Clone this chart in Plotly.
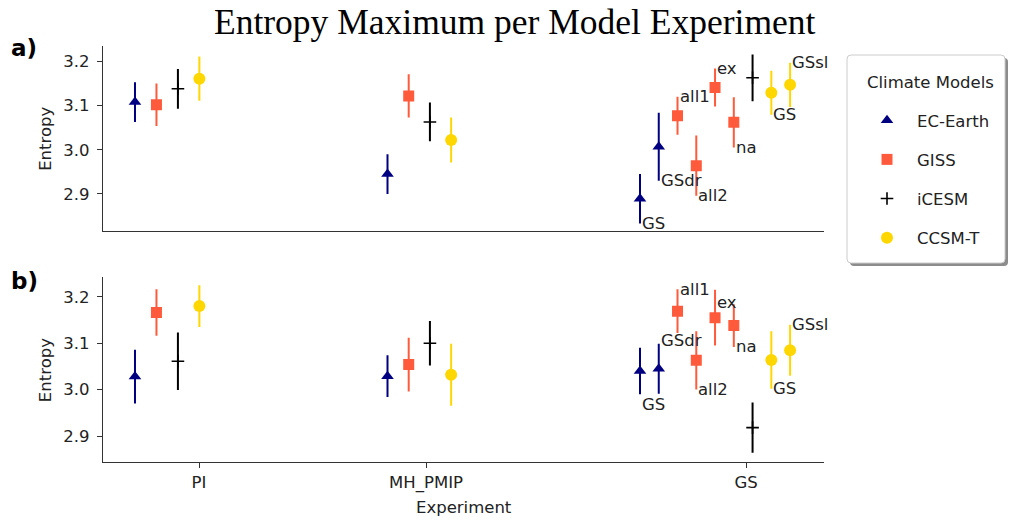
import plotly.graph_objects as go

# ---------------- data ----------------
experiments = ["PI", "MH_PMIP", "GS"]
models = ["EC-Earth", "GISS", "iCESM", "CCSM-T"]

pt_experiment = ["PI"] * 4 + ["MH_PMIP"] * 4 + ["GS"] * 9
pt_model = (["EC-Earth", "GISS", "iCESM", "CCSM-T"] * 2
            + ["EC-Earth", "EC-Earth", "GISS", "GISS", "GISS", "GISS",
               "iCESM", "CCSM-T", "CCSM-T"])
pt_label = [""] * 8 + ["GS", "GSdr", "all1", "all2", "ex", "na", "", "GS", "GSsl"]

# panel a
a_value = [3.108, 3.102, 3.138, 3.161,
           2.945, 3.122, 3.063, 3.022,
           2.889, 3.007, 3.077, 2.964, 3.141, 3.062, 3.163, 3.129, 3.147]
a_error = [0.045, 0.048, 0.045, 0.050,
           0.045, 0.049, 0.044, 0.051,
           0.056, 0.077, 0.043, 0.068, 0.043, 0.057, 0.053, 0.050, 0.050]
# panel b
b_value = [3.028, 3.166, 3.061, 3.180,
           3.029, 3.054, 3.100, 3.032,
           3.040, 3.045, 3.169, 3.063, 3.155, 3.138, 2.918, 3.064, 3.085]
b_error = [0.058, 0.050, 0.062, 0.045,
           0.045, 0.058, 0.048, 0.067,
           0.050, 0.054, 0.047, 0.063, 0.060, 0.046, 0.054, 0.062, 0.055]

# label placement: +1 above the error bar end, -1 below
a_label_side = [0] * 8 + [-1, -1, 1, -1, 1, -1, 0, -1, 1]
b_label_side = [0] * 8 + [-1, 1, 1, -1, 1, -1, 0, -1, 1]
b_label_nudge = [0] * 8 + [-10, 3, 0, 0, -13, 0, 0, 0, 0]
a_label_nudge = [0] * 17

# ---------------- styling ----------------
colors = {"EC-Earth": "#000080", "GISS": "#ff5a3c", "iCESM": "#000000", "CCSM-T": "#ffd700"}
symbols = {"EC-Earth": "triangle-up", "GISS": "square", "iCESM": "cross-thin", "CCSM-T": "circle"}
msize = {"EC-Earth": 11, "GISS": 11, "iCESM": 9, "CCSM-T": 12}
group_step = {"PI": 0.085, "MH_PMIP": 0.084, "GS": 0.0743}
tick_pos = [0.2535, 1.1525, 2.42]
FONT = "DejaVu Sans"
FS = 16.5
AX = "#333333"
TXT = "#222222"

# x positions computed from experiment index + within-group order
xpos = []
counter = {e: 0 for e in experiments}
for e in pt_experiment:
    xpos.append(experiments.index(e) + counter[e] * group_step[e])
    counter[e] += 1

fig = go.Figure()

panels = [("x", "y", a_value, a_error, a_label_side, a_label_nudge, True),
          ("x2", "y2", b_value, b_error, b_label_side, b_label_nudge, False)]

annotations = []
for xa, ya, vals, errs, sides, nudges, show in panels:
    for m in models:
        idx = [i for i, mm in enumerate(pt_model) if mm == m]
        fig.add_trace(go.Scatter(
            x=[xpos[i] for i in idx], y=[vals[i] for i in idx],
            error_y=dict(type="data", array=[errs[i] for i in idx], width=0,
                         thickness=2, color=colors[m]),
            mode="markers", name=m, legendgroup=m, showlegend=show,
            marker=dict(symbol=symbols[m], size=msize[m], color=colors[m],
                        line=dict(width=1.6 if m == "iCESM" else 0, color=colors[m])),
            xaxis=xa, yaxis=ya))
    for i, lab in enumerate(pt_label):
        if lab:
            annotations.append(dict(
                x=xpos[i], y=vals[i] + sides[i] * errs[i], xref=xa, yref=ya,
                text=lab, showarrow=False, xanchor="left", yanchor="middle",
                xshift=0, yshift=nudges[i],
                font=dict(family=FONT, size=FS, color=TXT)))

PW, PH = 721.0, 416.0

# titles / panel letters / axis titles
annotations += [
    dict(x=(515 - 103) / PW, y=1.0, xref="paper", yref="paper", yanchor="bottom", yshift=2,
         text="Entropy Maximum per Model Experiment", showarrow=False,
         font=dict(family="Liberation Serif", size=35.5, color="#000000")),
    dict(x=-0.131, y=0.995, xref="paper", yref="paper", xanchor="left", yanchor="middle",
         text="<b>a)</b>", showarrow=False, font=dict(family=FONT, size=23, color="#000000")),
    dict(x=-0.131, y=0.435, xref="paper", yref="paper", xanchor="left", yanchor="middle",
         text="<b>b)</b>", showarrow=False, font=dict(family=FONT, size=23, color="#000000")),
    dict(x=(45.5 - 103) / PW, y=0.778, xref="paper", yref="paper", textangle=-90,
         xanchor="center", yanchor="middle",
         text="Entropy", showarrow=False, font=dict(family=FONT, size=FS, color=TXT)),
    dict(x=(45.5 - 103) / PW, y=0.222, xref="paper", yref="paper", textangle=-90,
         xanchor="center", yanchor="middle",
         text="Entropy", showarrow=False, font=dict(family=FONT, size=FS, color=TXT)),
    dict(x=0.5, y=(462 - 507) / PH, xref="paper", yref="paper", yanchor="middle",
         text="Experiment", showarrow=False, font=dict(family=FONT, size=FS, color=TXT)),
    dict(x=(930 - 103) / PW, y=(462 - 82) / PH, xref="paper", yref="paper",
         xanchor="center", yanchor="middle",
         text="Climate Models", showarrow=False, font=dict(family=FONT, size=FS, color=TXT)),
]

# legend frame (rounded box with shadow)
def rrect(x0, y0, x1, y1, rx, ry):
    return (f"M{x0+rx},{y0} L{x1-rx},{y0} Q{x1},{y0} {x1},{y0+ry} "
            f"L{x1},{y1-ry} Q{x1},{y1} {x1-rx},{y1} L{x0+rx},{y1} "
            f"Q{x0},{y1} {x0},{y1-ry} L{x0},{y0+ry} Q{x0},{y0} {x0+rx},{y0} Z")

lx0, lx1 = (847 - 103) / PW, (1005 - 103) / PW
ly0, ly1 = (462 - 263) / PH, (462 - 55) / PH
rx, ry = 4 / PW, 4 / PH
dx, dy = 3 / PW, 3 / PH
shapes = [
    dict(type="path", xref="paper", yref="paper",
         path=rrect(lx0 + dx, ly0 - dy, lx1 + dx, ly1 - dy, rx, ry),
         fillcolor="#8c8c8c", line=dict(width=0), layer="below"),
    dict(type="path", xref="paper", yref="paper",
         path=rrect(lx0, ly0, lx1, ly1, rx, ry),
         fillcolor="#ffffff", line=dict(width=1, color="#cccccc"), layer="below"),
]

yax = dict(showgrid=False, zeroline=False, showline=True, linecolor=AX, linewidth=1.3,
           ticks="outside", ticklen=5, tickcolor=AX, tickwidth=1.2,
           tickvals=[2.9, 3.0, 3.1, 3.2], ticktext=["2.9", "3.0", "3.1", "3.2"],
           tickfont=dict(family=FONT, size=FS, color=TXT), ticklabelstandoff=4)

fig.update_layout(
    width=1009, height=521,
    margin=dict(l=103, r=185, t=46, b=59),
    paper_bgcolor="white", plot_bgcolor="white",
    showlegend=True,
    legend=dict(x=(857 - 103) / PW, y=(462 - 103) / PH, xanchor="left", yanchor="top",
                bgcolor="rgba(0,0,0,0)", borderwidth=0,
                font=dict(family=FONT, size=FS, color=TXT),
                tracegroupgap=14.7, itemwidth=50),
    xaxis=dict(domain=[0, 1], anchor="y", range=[-0.1267, 2.7287], showgrid=False,
               zeroline=False, showline=True, linecolor=AX, linewidth=1.3,
               ticks="", showticklabels=False),
    yaxis=dict(domain=[0.556, 1], anchor="x", range=[2.8166, 3.235], **yax),
    xaxis2=dict(domain=[0, 1], anchor="y2", range=[-0.1267, 2.7287], showgrid=False,
                zeroline=False, showline=True, linecolor=AX, linewidth=1.3,
                ticks="outside", ticklen=5, tickcolor=AX, tickwidth=1.2,
                tickvals=tick_pos, ticktext=experiments,
                tickfont=dict(family=FONT, size=FS, color=TXT), ticklabelstandoff=0),
    yaxis2=dict(domain=[0, 0.444], anchor="x2", range=[2.844, 3.242], **yax),
    annotations=annotations,
    shapes=shapes,
)

fig.write_html("out.html")
